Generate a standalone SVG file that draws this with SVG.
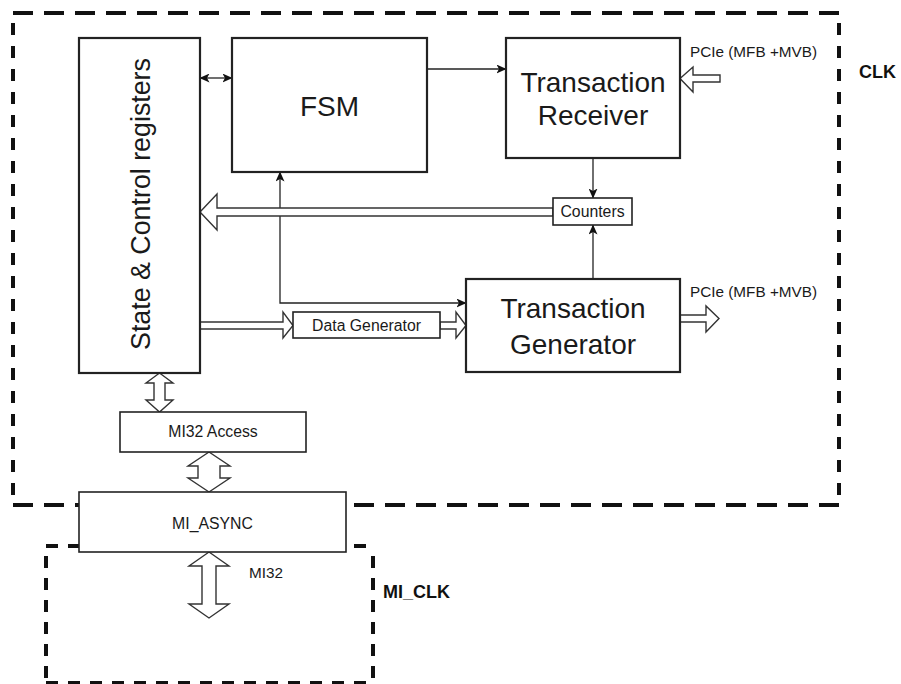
<svg xmlns="http://www.w3.org/2000/svg" width="901" height="684" viewBox="0 0 901 684">
<style>
.bg{fill:#fff}
.dh{stroke:#111;stroke-width:4;stroke-dasharray:20 11;fill:none}
.dv{stroke:#111;stroke-width:4;stroke-dasharray:12 11;fill:none}
.ds{stroke:#111;stroke-width:4;stroke-dasharray:12 10;fill:none}
.box{fill:#fff;stroke:#222;stroke-width:2.2}
.sbox{fill:#fff;stroke:#222;stroke-width:1.6}
.t{font-family:"Liberation Sans",Arial,sans-serif;fill:#1a1a1a;text-anchor:middle}
.big{font-size:28px}
.sm{font-size:15.8px}
.lbl{font-family:"Liberation Sans",Arial,sans-serif;fill:#1a1a1a;font-size:15.3px}
.bold{font-family:"Liberation Sans",Arial,sans-serif;fill:#111;font-size:18px;font-weight:bold}
.ln{fill:none;stroke:#222;stroke-width:1.3}
.ha{fill:#fff;stroke:#333;stroke-width:1.4;stroke-linejoin:miter}
</style>
<defs>
<marker id="ah" markerUnits="userSpaceOnUse" markerWidth="10" markerHeight="9" refX="9.5" refY="4.5" orient="auto-start-reverse">
<path d="M0,0 L10,4.5 L0,9 L2.5,4.5 z" fill="#111"/>
</marker>
</defs>
<rect class="bg" x="0" y="0" width="901" height="684"/>

<g id="clk-domain">
<line class="dh" x1="13" y1="13" x2="839" y2="13"/>
<line class="dh" x1="13" y1="505" x2="839" y2="505"/>
<line class="dv" x1="13" y1="23" x2="13" y2="505"/>
<line class="dv" x1="839" y1="23" x2="839" y2="505"/>
<text class="bold" x="859" y="78">CLK</text>
</g>

<g id="mi-clk-domain">
<line class="ds" x1="46" y1="546" x2="373" y2="546"/>
<line class="ds" x1="46" y1="683" x2="373" y2="683"/>
<line class="ds" x1="46" y1="556" x2="46" y2="684"/>
<line class="ds" x1="373" y1="556" x2="373" y2="684"/>
<text class="bold" x="383" y="598">MI_CLK</text>
</g>

<g id="connectors">
<line class="ln" x1="200" y1="78" x2="232" y2="78" marker-start="url(#ah)" marker-end="url(#ah)"/>
<line class="ln" x1="427" y1="69" x2="506" y2="69" marker-end="url(#ah)"/>
<line class="ln" x1="593" y1="158" x2="593" y2="198" marker-end="url(#ah)"/>
<line class="ln" x1="593" y1="279" x2="593" y2="225" marker-end="url(#ah)"/>
<polyline class="ln" points="280,172 280,303 466,303" marker-start="url(#ah)" marker-end="url(#ah)"/>
<polygon class="ha" points="720,75 693,75 693,67 680,78.5 693,92 693,82 720,82"/>
<polygon class="ha" points="553,208 217,208 217,194 200,212 217,230 217,216 553,216"/>
<polygon class="ha" points="200,322 283,322 283,312 293,325.5 283,338 283,329 200,329"/>
<polygon class="ha" points="440,322 456,322 456,312 466,325.5 456,338 456,329 440,329"/>
<polygon class="ha" points="680,315 706,315 706,306 719,318.5 706,332 706,322 680,322"/>
<polygon class="ha" points="159.5,373 173,383 165,383 165,400 173,400 159.5,412 146,400 154,400 154,383 146,383"/>
<polygon class="ha" points="209,452 230,466 220,466 220,478 230,478 209,492 188,478 198,478 198,466 188,466"/>
<polygon class="ha" points="209,552 229,566 216,566 216,604 229,604 209,618 189,604 202,604 202,566 189,566"/>
<text class="lbl" x="690" y="57">PCIe (MFB +MVB)</text>
<text class="lbl" x="690" y="297">PCIe (MFB +MVB)</text>
<text class="lbl" x="249" y="578">MI32</text>
</g>

<g id="state-control-registers">
<rect class="box" x="79" y="38" width="121" height="335"/>
<text class="t" style="font-size:26.8px" x="150" y="204" transform="rotate(-90 150 204)">State &amp; Control registers</text>
</g>

<g id="fsm">
<rect class="box" x="232" y="38" width="195" height="134"/>
<text class="t big" x="329.5" y="116">FSM</text>
</g>

<g id="transaction-receiver">
<rect class="box" x="506" y="38" width="174" height="120"/>
<text class="t big" x="593" y="92">Transaction</text>
<text class="t big" x="593" y="125">Receiver</text>
</g>

<g id="counters">
<rect class="sbox" x="553" y="198" width="79" height="27"/>
<text class="t sm" x="592.5" y="217">Counters</text>
</g>

<g id="transaction-generator">
<rect class="box" x="466" y="279" width="214" height="93"/>
<text class="t big" x="573" y="318">Transaction</text>
<text class="t big" x="573" y="354">Generator</text>
</g>

<g id="data-generator">
<rect class="sbox" x="293" y="312" width="147" height="26"/>
<text class="t sm" x="366.5" y="331">Data Generator</text>
</g>

<g id="mi32-access">
<rect class="sbox" x="120" y="412" width="186" height="40"/>
<text class="t sm" x="213" y="437">MI32 Access</text>
</g>

<g id="mi-async">
<rect class="sbox" x="79" y="492" width="267" height="60"/>
<text class="t sm" x="212.5" y="529">MI_ASYNC</text>
</g>
</svg>
